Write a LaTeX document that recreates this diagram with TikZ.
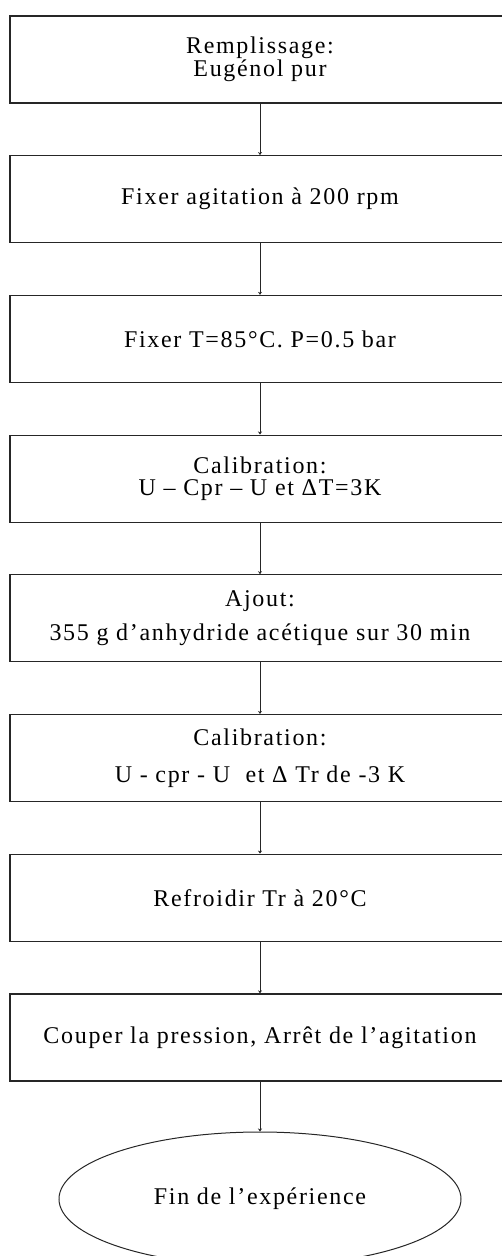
\documentclass[tikz,border=0pt]{standalone}
\usepackage{fontspec}
\setmainfont[LetterSpace=7]{Liberation Serif}
\usetikzlibrary{shapes.geometric, arrows.meta, positioning}

\begin{document}
\begin{tikzpicture}[
    node distance=51.5pt,
    stepbox/.style={rectangle, draw=black!85, line width=1.2pt, minimum width=500pt, minimum height=87pt, inner sep=0pt, align=center, font=\fontsize{24}{22.5}\selectfont},
    endstep/.style={ellipse, draw=black!85, line width=1pt, minimum width=402pt, minimum height=134pt, inner sep=0pt, align=center, font=\fontsize{24}{22.5}\selectfont},
    arrow/.style={-{Stealth[length=3pt, width=4pt]}, line width=1pt, draw=black!85}
]
\useasboundingbox (0,0) rectangle (502pt,-1256pt);

\node[stepbox] (fill) at (260pt,-59.5pt) {Remplissage:\\Eugénol pur};
\node[stepbox, below=of fill] (stir) {Fixer agitation à 200 rpm};
\node[stepbox, below=of stir] (setp) {Fixer T=85°C. P=0.5 bar};
\node[stepbox, below=of setp] (calib1) {Calibration:\\U – Cpr – U et ΔT=3K};
\node[stepbox, below=of calib1] (feed) {Ajout:\\[11pt]355 g d'anhydride acétique sur 30 min};
\node[stepbox, below=of feed] (calib2) {Calibration:\\[14pt]U - cpr - U\ \ et Δ Tr de -3 K};
\node[stepbox, below=of calib2] (cool) {Refroidir Tr à 20°C};
\node[stepbox, below=of cool] (stop) {Couper la pression, Arrêt de l’agitation};
\node[endstep, below=50pt of stop] (finish) {Fin de l’expérience};

\draw[arrow] (fill) -- (stir);
\draw[arrow] (stir) -- (setp);
\draw[arrow] (setp) -- (calib1);
\draw[arrow] (calib1) -- (feed);
\draw[arrow] (feed) -- (calib2);
\draw[arrow] (calib2) -- (cool);
\draw[arrow] (cool) -- (stop);
\draw[arrow] (stop) -- (finish);

\end{tikzpicture}
\end{document}
